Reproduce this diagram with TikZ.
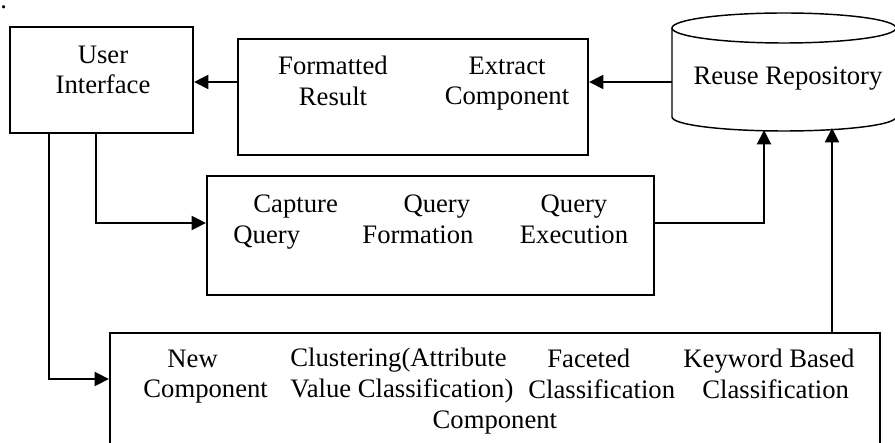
\documentclass[tikz,border=0pt]{standalone}
\usepackage{fontspec}
\setmainfont{Liberation Serif}
\usetikzlibrary{arrows.meta}

\begin{document}
\begin{tikzpicture}[
    x=0.45pt, y=-0.45pt,
    box/.style={draw, line width=0.9pt, inner sep=0pt},
    txt/.style={align=center, font=\fontsize{12}{13.8}\selectfont, inner sep=0pt,
      execute at begin node=\strut, execute at end node=\strut},
    ltxt/.style={txt, align=left, anchor=west},
    arr/.style={line width=0.9pt, -{Triangle[length=6.5pt, width=6.3pt]}},
    drum/.style={line width=0.65pt}
  ]
  \useasboundingbox (0,0) rectangle (895,443);

  \node[font=\fontsize{12}{13.8}\selectfont, inner sep=0pt, anchor=base west] (dot) at (0,9) {.};

  % boxes
  \node[box, minimum width=82.35pt, minimum height=47.7pt] (ui) at (101.5,80) {};
  \node[box, minimum width=157.5pt, minimum height=52.2pt] (res) at (413,97) {};
  \node[box, minimum width=201.15pt, minimum height=53.55pt] (qry) at (430.5,235.5) {};
  \node[box, minimum width=346.5pt, minimum height=63pt] (cls) at (495,403) {};

  % repository drum
  \draw[drum] (672,28) -- (672,117) arc[start angle=180, end angle=0, x radius=112, y radius=14] -- (896,28);
  \draw[drum] (784,28) ellipse[x radius=112, y radius=15];
  \node[txt] (repo) at (788,78.5) {Reuse Repository};
  \coordinate (rw) at (672,82);
  \coordinate (rb1) at (764,130);
  \coordinate (rb2) at (832,128);

  % texts
  \node[txt] (uitxt) at (103,74.5) {User\\Interface};
  \node[txt] (fmt) at (333,85.5) {Formatted\\Result};
  \node[txt] (ext) at (507,85.5) {Extract\\Component};
  \node[ltxt] (cap) at (233,223.5) {\hspace*{9pt}Capture\\Query};
  \node[ltxt] (form) at (362,223.5) {\hspace*{18.5pt}Query\\Formation};
  \node[txt] (exe) at (574,223.5) {Query\\Execution};
  \node[ltxt] (newc) at (143,378.5) {\hspace*{10.8pt}New\\Component};
  \node[ltxt] (clust) at (290,393) {Clustering(Attribute\\Value Classification)\\\hspace*{64pt}Component};
  \node[ltxt] (facet) at (528,378.5) {\hspace*{8.5pt}Faceted\\Classification};
  \node[ltxt] (kw) at (683,378.5) {Keyword Based\\\hspace*{8.5pt}Classification};

  % connectors
  \draw[arr] (res.west |- rw) -- (ui.east |- rw);
  \draw[arr] (rw) -- (res.east |- rw);
  \draw[arr] (ui.south -| 96,0) |- (qry.west |- 0,223);
  \draw[arr] (ui.south -| 49,0) |- (cls.west |- 0,379);
  \draw[arr] (qry.east |- 0,223) -| (rb1);
  \draw[arr] (cls.north -| rb2) -- (rb2);
\end{tikzpicture}
\end{document}
